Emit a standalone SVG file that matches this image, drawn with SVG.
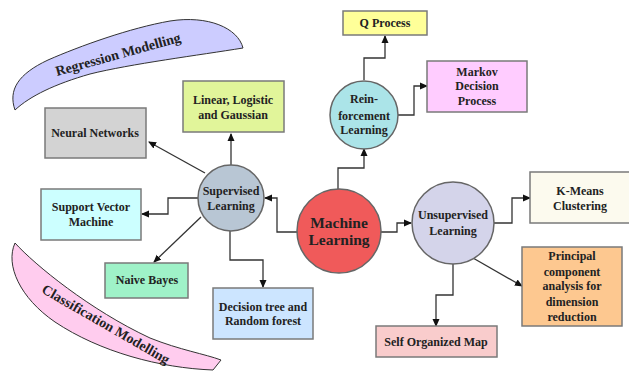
<svg xmlns="http://www.w3.org/2000/svg" width="629" height="377" viewBox="0 0 629 377">
<style>
text{font-family:"Liberation Serif","Times New Roman",serif;font-weight:bold;font-size:12px;fill:#222;text-anchor:middle}
.box{stroke:#7a7a7a;stroke-width:1.5}
.circ{stroke:#666;stroke-width:1.5}
.conn{fill:none;stroke:#333;stroke-width:1.3;marker-end:url(#ah)}
.big{font-size:15.5px}
.ban{font-size:14px}
</style>
<defs>
<marker id="ah" markerWidth="8" markerHeight="8" refX="7" refY="4" orient="auto" markerUnits="userSpaceOnUse">
<path d="M0,0.5 L8,4 L0,7.5 Z" fill="#111"/>
</marker>
</defs>
<rect width="629" height="377" fill="#fff"/>
<g id="regression">
<path d="M15,110 C8,90 18,74 48,60 C80,46 130,28 170,21 C208,15 238,28 243,48 C200,55 130,64 90,74 C55,84 30,96 15,110 Z" fill="#ccccff" stroke="#333" stroke-width="1"/>
<text class="ban" x="118" y="59" transform="rotate(-15.5 118 54)">Regression Modelling</text>
</g>
<g id="classification">
<path d="M15,243 C35,265 90,310 150,338 C180,350 205,354 221,360 L213,370 C160,368 100,352 55,322 C20,298 5,265 15,243 Z" fill="#ffccee" stroke="#333" stroke-width="1"/>
<text class="ban" x="106" y="329" transform="rotate(30 106 324)">Classification Modelling</text>
</g>
<g id="connectors">
<path class="conn" d="M205,173 L149,142"/>
<path class="conn" d="M231,165 L231,134"/>
<path class="conn" d="M198,198 L168,198 L168,214 L142,214"/>
<path class="conn" d="M201,217 L154,262"/>
<path class="conn" d="M230,231 L230,260 L263,260 L263,287"/>
<path class="conn" d="M298,232 L277,232 L277,198 L265,198"/>
<path class="conn" d="M338,190 L338,168 L364,168 L364,149"/>
<path class="conn" d="M364,80 L364,58 L385,58 L385,36"/>
<path class="conn" d="M398,115 L414,115 L414,86 L427,86"/>
<path class="conn" d="M380,232 L397,232 L397,223 L411,223"/>
<path class="conn" d="M494,223 L512,223 L512,198 L530,198"/>
<path class="conn" d="M473,258 L522,286"/>
<path class="conn" d="M453,264 L453,295 L436,295 L436,326"/>
</g>
<g id="neural">
<rect class="box" x="45" y="108" width="101" height="50" fill="#d3d3d3"/>
<text x="95" y="137">Neural Networks</text>
</g>
<g id="linear">
<rect class="box" x="183" y="81" width="101" height="51" fill="#e1f59a"/>
<text x="233" y="104">Linear, Logistic</text>
<text x="233" y="119">and Gaussian</text>
</g>
<g id="qprocess">
<rect class="box" x="343" y="11" width="84" height="24" fill="#ffff99"/>
<text x="385" y="27">Q Process</text>
</g>
<g id="markov">
<rect class="box" x="427" y="61" width="100" height="51" fill="#ffccff"/>
<text x="477" y="76">Markov</text>
<text x="477" y="90">Decision</text>
<text x="477" y="105">Process</text>
</g>
<g id="reinforcement">
<circle class="circ" cx="364" cy="115" r="34" fill="#abe4e8"/>
<text x="364" y="103">Rein-</text>
<text x="364" y="120">forcement</text>
<text x="364" y="134">Learning</text>
</g>
<g id="svm">
<rect class="box" x="41" y="189" width="100" height="51" fill="#ccffff"/>
<text x="91" y="211">Support Vector</text>
<text x="91" y="226">Machine</text>
</g>
<g id="supervised">
<circle class="circ" cx="231" cy="198" r="33" fill="#b8c6d4"/>
<text x="231" y="195">Supervised</text>
<text x="231" y="210">Learning</text>
</g>
<g id="naive">
<rect class="box" x="105" y="263" width="83" height="35" fill="#9ff2c8"/>
<text x="147" y="284">Naive Bayes</text>
</g>
<g id="decision">
<rect class="box" x="213" y="288" width="100" height="51" fill="#cce5ff"/>
<text x="263" y="311">Decision tree and</text>
<text x="263" y="325">Random forest</text>
</g>
<g id="machine">
<circle class="circ" cx="339" cy="231" r="42" fill="#f05a5a"/>
<text class="big" x="339" y="228">Machine</text>
<text class="big" x="339" y="245">Learning</text>
</g>
<g id="unsupervised">
<circle class="circ" cx="453" cy="223" r="41" fill="#d4d4ea"/>
<text x="453" y="219">Unsupervised</text>
<text x="453" y="235">Learning</text>
</g>
<g id="kmeans">
<rect class="box" x="530" y="172" width="100" height="51" fill="#fcfaee"/>
<text x="580" y="195">K-Means</text>
<text x="580" y="210">Clustering</text>
</g>
<g id="pca">
<rect class="box" x="522" y="247" width="100" height="79" fill="#fdc890"/>
<text x="572" y="260">Principal</text>
<text x="572" y="276">component</text>
<text x="572" y="290">analysis for</text>
<text x="572" y="306">dimension</text>
<text x="572" y="321">reduction</text>
</g>
<g id="som">
<rect class="box" x="376" y="326" width="121" height="31" fill="#f9cccc"/>
<text x="436" y="346">Self Organized Map</text>
</g>
</svg>
